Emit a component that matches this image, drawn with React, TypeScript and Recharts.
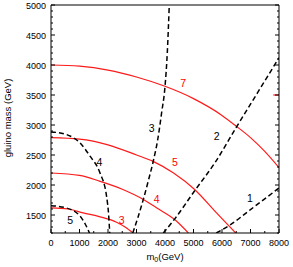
import React from 'react';
import { LineChart, Line, XAxis, YAxis, ReferenceLine, ReferenceDot } from 'recharts';

// ---- tick values ----
const xTicks = [0, 500, 1000, 1500, 2000, 2500, 3000, 3500, 4000, 4500, 5000, 5500, 6000, 6500, 7000, 7500, 8000];
const xLabelTicks = [0, 1000, 2000, 3000, 4000, 5000, 6000, 7000, 8000];
const yLabelTicks = [1500, 2000, 2500, 3000, 3500, 4000, 4500, 5000];
const yTicks: number[] = [];
for (let v = 1200; v <= 5000; v += 100) yTicks.push(v);

// ---- red curves (solid) ----
const red7 = [
  { x: 0, y: 4000 }, { x: 1000, y: 3980 }, { x: 2000, y: 3915 }, { x: 3000, y: 3800 },
  { x: 4000, y: 3645 }, { x: 5000, y: 3440 }, { x: 6000, y: 3160 }, { x: 6500, y: 2980 },
  { x: 7000, y: 2790 }, { x: 7500, y: 2560 }, { x: 8000, y: 2290 },
];
const red5 = [
  { x: 0, y: 2790 }, { x: 1000, y: 2765 }, { x: 2000, y: 2670 }, { x: 3000, y: 2500 },
  { x: 3600, y: 2390 }, { x: 4300, y: 2200 }, { x: 5030, y: 1930 }, { x: 5800, y: 1540 },
  { x: 6200, y: 1340 }, { x: 6480, y: 1200 },
];
const red4 = [
  { x: 0, y: 2200 }, { x: 1000, y: 2160 }, { x: 1700, y: 2065 }, { x: 2500, y: 1930 },
  { x: 3240, y: 1760 }, { x: 3700, y: 1620 }, { x: 4350, y: 1420 }, { x: 4820, y: 1200 },
];
const red3 = [
  { x: 0, y: 1620 }, { x: 600, y: 1600 }, { x: 1130, y: 1535 }, { x: 1720, y: 1470 },
  { x: 2300, y: 1380 }, { x: 2600, y: 1300 }, { x: 2880, y: 1200 },
];

// ---- black curves (dashed) ----
const dash1 = [
  { x: 5800, y: 1200 }, { x: 6300, y: 1340 }, { x: 7000, y: 1590 }, { x: 8000, y: 1950 },
];
const dash2 = [
  { x: 3940, y: 1200 }, { x: 4350, y: 1440 }, { x: 5050, y: 1910 }, { x: 5750, y: 2370 },
  { x: 6500, y: 2960 }, { x: 7250, y: 3540 }, { x: 8000, y: 4120 },
];
const dash3 = [
  { x: 2870, y: 1200 }, { x: 3050, y: 1460 }, { x: 3240, y: 1760 }, { x: 3420, y: 2080 },
  { x: 3590, y: 2400 }, { x: 3760, y: 2800 }, { x: 3880, y: 3200 }, { x: 4000, y: 3640 },
  { x: 4080, y: 4200 }, { x: 4150, y: 5000 },
];
const dash4 = [
  { x: 0, y: 2885 }, { x: 550, y: 2840 }, { x: 1020, y: 2700 }, { x: 1370, y: 2480 },
  { x: 1720, y: 2200 }, { x: 1950, y: 1810 }, { x: 2030, y: 1450 }, { x: 2060, y: 1200 },
];
const dash5 = [
  { x: 0, y: 1655 }, { x: 550, y: 1615 }, { x: 1020, y: 1480 }, { x: 1200, y: 1350 },
  { x: 1350, y: 1200 },
];

// ---- curve labels ----
const curveLabels = [
  { text: '3', x: 3530, y: 2950, color: '#000' },
  { text: '2', x: 5810, y: 2810, color: '#000' },
  { text: '4', x: 1700, y: 2380, color: '#000' },
  { text: '5', x: 670, y: 1410, color: '#000' },
  { text: '1', x: 6980, y: 1780, color: '#000' },
  { text: '7', x: 4640, y: 3700, color: '#f00' },
  { text: '5', x: 4350, y: 2380, color: '#f00' },
  { text: '4', x: 3710, y: 1770, color: '#f00' },
  { text: '3', x: 2480, y: 1420, color: '#f00' },
];

const FONT = 'Liberation Sans, Arial, Helvetica, sans-serif';
const RED = '#ff1a1a';

const BottomTick = (p: any) => {
  const v = p.payload.value;
  const major = xLabelTicks.includes(v);
  return (
    <g>
      <line x1={p.x} x2={p.x} y1={p.y} y2={p.y - (major ? 4 : 2)} stroke="#000" strokeWidth={1} />
      {major && (
        <text x={p.x} y={p.y + 12.5} textAnchor="middle" fontSize={9} fontFamily={FONT} fill="#000">{v}</text>
      )}
    </g>
  );
};
const TopTick = (p: any) => {
  const v = p.payload.value;
  const major = xLabelTicks.includes(v);
  return <line x1={p.x} x2={p.x} y1={p.y} y2={p.y + (major ? 4 : 2)} stroke="#000" strokeWidth={1} />;
};
const LeftTick = (p: any) => {
  const v = p.payload.value;
  const major = yLabelTicks.includes(v);
  const ax = p.x + 5;
  return (
    <g>
      <line x1={ax} x2={ax + (major ? 4 : 2)} y1={p.y} y2={p.y} stroke="#000" strokeWidth={1} />
      {major && (
        <text x={p.x} y={p.y + 3.5} textAnchor="end" fontSize={9} fontFamily={FONT} fill="#000">{v}</text>
      )}
    </g>
  );
};
const RightTick = (p: any) => {
  const v = p.payload.value;
  const major = yLabelTicks.includes(v);
  return <line x1={p.x} x2={p.x - (major ? 4 : 2)} y1={p.y} y2={p.y} stroke="#000" strokeWidth={1} />;
};

const XLabel = (props: any) => {
  const vb = props.viewBox || { x: 51, y: 233, width: 228, height: 34 };
  return (
    <text x={vb.x + vb.width / 2} y={vb.y + 26.5} textAnchor="middle" fontSize={9.5} fontFamily={FONT} fill="#000">
      <tspan>m</tspan>
      <tspan dy={2.5} fontSize={7}>0</tspan>
      <tspan dy={-2.5}>(GeV)</tspan>
    </text>
  );
};
const YLabel = (props: any) => {
  const vb = props.viewBox || { x: 0, y: 5, width: 51, height: 228 };
  const cx = 7.5;
  const cy = vb.y + vb.height / 2 - 1;
  return (
    <text x={cx} y={cy} transform={`rotate(-90, ${cx}, ${cy})`} textAnchor="middle" dominantBaseline="central"
      fontSize={9.5} fontFamily={FONT} fill="#000">gluino mass (GeV)</text>
  );
};

const series = [
  { id: 'r7', data: red7, color: RED, dash: undefined as string | undefined, w: 1.2 },
  { id: 'r5', data: red5, color: RED, dash: undefined, w: 1.2 },
  { id: 'r4', data: red4, color: RED, dash: undefined, w: 1.2 },
  { id: 'r3', data: red3, color: RED, dash: undefined, w: 1.2 },
  { id: 'd1', data: dash1, color: '#000', dash: '5 3', w: 1.5 },
  { id: 'd2', data: dash2, color: '#000', dash: '5 3', w: 1.5 },
  { id: 'd3', data: dash3, color: '#000', dash: '5 3', w: 1.5 },
  { id: 'd4', data: dash4, color: '#000', dash: '5 3', w: 1.5 },
  { id: 'd5', data: dash5, color: '#000', dash: '5 3', w: 1.5 },
];

export default function App() {
  return (
    <div style={{ position: 'absolute', left: 0, top: 0, background: '#fff' }}>
      <LineChart width={293} height={267} margin={{ top: 0, right: 0, bottom: 0, left: 0 }}>
        <XAxis
          xAxisId={0}
          dataKey="x"
          type="number"
          domain={[0, 8000]}
          allowDataOverflow
          ticks={xTicks}
          interval={0}
          height={34}
          tickSize={0}
          tickMargin={0}
          tickLine={false}
          tick={<BottomTick />}
          axisLine={{ stroke: '#000', strokeWidth: 1 }}
          label={<XLabel />}
        />
        <XAxis
          xAxisId="top"
          orientation="top"
          type="number"
          domain={[0, 8000]}
          allowDataOverflow
          ticks={xTicks}
          interval={0}
          height={5}
          tickSize={0}
          tickMargin={0}
          tickLine={false}
          tick={<TopTick />}
          axisLine={{ stroke: '#000', strokeWidth: 1 }}
        />
        <YAxis
          yAxisId={0}
          type="number"
          domain={[1200, 5000]}
          allowDataOverflow
          ticks={yTicks}
          interval={0}
          width={51}
          tickSize={0}
          tickMargin={5}
          tickLine={false}
          tick={<LeftTick />}
          axisLine={{ stroke: '#000', strokeWidth: 1 }}
          label={<YLabel />}
        />
        <YAxis
          yAxisId="right"
          orientation="right"
          type="number"
          domain={[1200, 5000]}
          allowDataOverflow
          ticks={yTicks}
          interval={0}
          width={14}
          tickSize={0}
          tickMargin={0}
          tickLine={false}
          tick={<RightTick />}
          axisLine={{ stroke: '#000', strokeWidth: 1 }}
        />
        {series.map((s) => (
          <Line
            key={s.id}
            data={s.data}
            dataKey="y"
            type="monotone"
            stroke={s.color}
            strokeWidth={s.w}
            strokeDasharray={s.dash}
            dot={false}
            activeDot={false}
            isAnimationActive={false}
          />
        ))}
        <ReferenceLine
          segment={[{ x: 7800, y: 3500 }, { x: 8000, y: 3500 }]}
          stroke={RED}
          strokeWidth={1.2}
        />
        {curveLabels.map((l, i) => (
          <ReferenceDot
            key={i}
            x={l.x}
            y={l.y}
            r={0}
            fill="none"
            stroke="none"
            label={{ value: l.text, position: 'center', fill: l.color, fontSize: 10.5, fontFamily: FONT }}
          />
        ))}
      </LineChart>
    </div>
  );
}
